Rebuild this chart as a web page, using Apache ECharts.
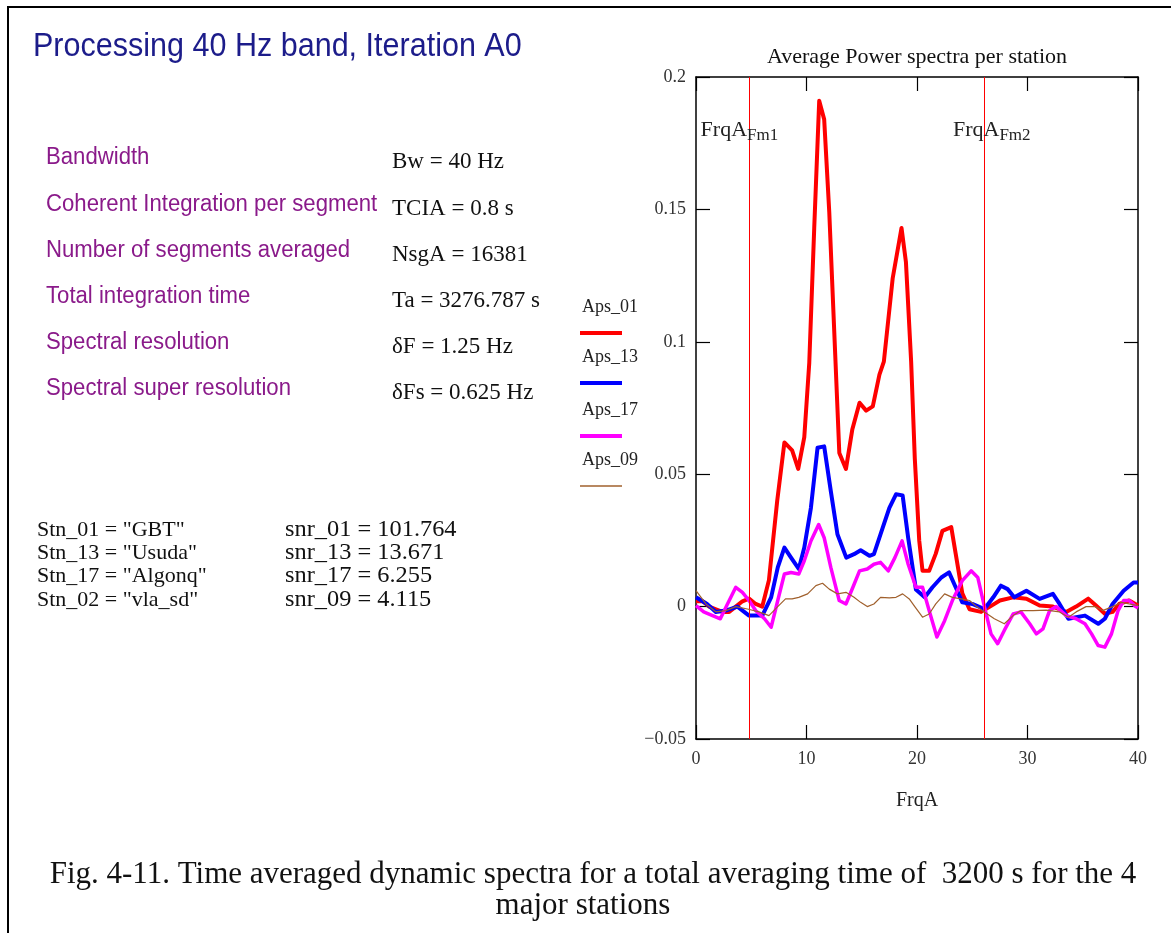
<!DOCTYPE html>
<html>
<head>
<meta charset="utf-8">
<script src="https://cdn.jsdelivr.net/npm/echarts@6/dist/echarts.min.js"></script>
<style>
html,body{margin:0;padding:0;background:#fff;}
#chart{width:1171px;height:933px;}
</style>
</head>
<body>
<div id="chart"></div>
<script>
// ---- data ----
const seriesNames = ['Aps_01', 'Aps_13', 'Aps_17', 'Aps_09'];
const aps01 = [[0,0.002],[0.6,0.002],[1.2,0.000],[1.8,-0.001],[2.4,-0.002],[3.0,-0.002],[3.6,0.000],[4.2,0.002],[4.8,0.003],[5.4,0.001],[6.0,0.000],[6.6,0.010],[7.35,0.040],[8.0,0.062],[8.7,0.059],[9.25,0.052],[9.8,0.064],[10.25,0.092],[10.7,0.143],[11.15,0.191],[11.6,0.184],[12.06,0.149],[12.6,0.095],[12.97,0.058],[13.57,0.052],[14.15,0.067],[14.8,0.077],[15.4,0.074],[16.0,0.0756],[16.6,0.0876],[17.0,0.0925],[17.8,0.124],[18.6,0.143],[19.0,0.130],[19.47,0.0925],[19.8,0.056],[20.2,0.025],[20.5,0.0135],[21.1,0.0135],[21.7,0.020],[22.3,0.0286],[23.1,0.030],[23.5,0.020],[24.1,0.005],[24.75,-0.001],[25.8,-0.002],[26.6,0.000],[27.5,0.0023],[28.7,0.0035],[29.9,0.003],[31.1,0.0004],[32.3,0.000],[33.5,-0.002],[34.4,0.000],[35.5,0.003],[36.2,0.0004],[37.0,-0.0027],[37.7,-0.002],[38.3,0.001],[39.2,0.0023],[40,0.0004]];
const aps13 = [[0,0.0035],[1.0,0.001],[1.8,-0.002],[2.7,-0.0015],[3.75,0.000],[4.8,-0.0034],[6.0,-0.0034],[6.8,0.0035],[7.4,0.0148],[8.0,0.0223],[8.6,0.0185],[9.3,0.0142],[9.8,0.0223],[10.4,0.0373],[11.0,0.060],[11.6,0.0605],[12.2,0.0436],[12.8,0.0273],[13.6,0.0185],[14.3,0.0198],[14.9,0.0213],[15.7,0.0192],[16.1,0.0198],[16.9,0.0298],[17.5,0.0373],[18.1,0.0424],[18.7,0.042],[19.2,0.026],[19.9,0.0065],[20.7,0.0035],[21.4,0.0073],[22.2,0.011],[22.9,0.0129],[23.5,0.0073],[24.1,0.0016],[25.0,0.001],[26.1,-0.0009],[26.9,0.0035],[27.6,0.0079],[28.2,0.0066],[28.8,0.0035],[29.9,0.006],[31.1,0.0029],[32.3,0.0048],[32.9,0.001],[33.7,-0.0046],[34.4,-0.004],[35.2,-0.0034],[36.4,-0.0065],[37.0,-0.0046],[37.7,0.001],[38.7,0.006],[39.6,0.0091],[40,0.0091]];
const aps17 = [[0,0.0004],[0.7,-0.002],[1.5,-0.0034],[2.2,-0.0046],[2.85,0.001],[3.6,0.0073],[4.2,0.0054],[4.8,0.0023],[5.4,-0.0015],[6.2,-0.0046],[6.8,-0.0078],[7.4,0.0023],[8.0,0.0123],[8.6,0.0129],[9.3,0.0123],[9.8,0.0173],[10.4,0.0248],[11.1,0.031],[11.6,0.026],[12.2,0.0148],[12.96,0.0023],[13.57,0.001],[14.2,0.0073],[14.8,0.0135],[15.5,0.0142],[16.1,0.016],[16.7,0.0167],[17.4,0.0135],[18.0,0.0185],[18.65,0.0248],[19.2,0.016],[19.9,0.0073],[20.5,0.0073],[21.1,-0.0015],[21.8,-0.0115],[22.5,-0.0053],[23.2,0.0023],[24.1,0.0098],[24.9,0.0135],[25.5,0.011],[26.1,0.000],[26.7,-0.0103],[27.3,-0.014],[27.9,-0.009],[28.7,-0.0028],[29.4,-0.002],[30.2,-0.0065],[30.8,-0.0103],[31.4,-0.0084],[32.0,-0.0015],[32.6,0.000],[33.5,-0.0034],[34.4,-0.0046],[35.2,-0.0065],[35.8,-0.0103],[36.4,-0.0147],[37.0,-0.0153],[37.6,-0.0103],[38.2,-0.0015],[38.7,0.0023],[39.2,0.0023],[39.8,0.000],[40,-0.0005]];
const aps09 = [[0,0.006],[0.9,0.001],[1.8,-0.002],[2.7,-0.0015],[3.6,0.000],[4.65,-0.0009],[5.7,-0.002],[6.6,-0.0034],[7.4,0.000],[8.1,0.0029],[8.7,0.0029],[9.3,0.0035],[10.1,0.0048],[10.85,0.0079],[11.45,0.0088],[12.06,0.0066],[12.8,0.0048],[13.57,0.0054],[14.3,0.0035],[14.9,0.0016],[15.5,0.000],[16.1,0.001],[16.7,0.0035],[17.5,0.0033],[18.1,0.0035],[18.7,0.0048],[19.3,0.0029],[19.8,0.000],[20.5,-0.004],[21.1,-0.0028],[21.7,0.001],[22.5,0.0048],[23.2,0.0035],[24.0,0.0029],[24.75,0.0023],[25.4,0.000],[26.1,-0.002],[27.0,-0.0046],[27.9,-0.0065],[28.7,-0.0034],[29.4,-0.0015],[30.5,-0.0015],[31.7,-0.0013],[32.9,-0.002],[33.7,-0.004],[34.4,-0.002],[35.3,0.000],[36.1,0.000],[36.8,-0.0015],[37.7,0.000],[38.5,0.0016],[39.2,0.001],[40,0.0004]];
const markerFreqs = [4.8, 26.1];
const markerSubs = ['Fm1', 'Fm2'];
const paramLabels = ['Bandwidth', 'Coherent Integration per segment', 'Number of segments averaged', 'Total integration time', 'Spectral resolution', 'Spectral super resolution'];
const paramValues = ['Bw = 40 Hz', 'TCIA = 0.8 s', 'NsgA = 16381', 'Ta = 3276.787 s', '\u03B4F = 1.25 Hz', '\u03B4Fs = 0.625 Hz'];
const stationNames = ['Stn_01 = "GBT"', 'Stn_13 = "Usuda"', 'Stn_17 = "Algonq"', 'Stn_02 = "vla_sd"'];
const snrValues = ['snr_01 = 101.764', 'snr_13 = 13.671', 'snr_17 = 6.255', 'snr_09 = 4.115'];
const yTicks = { min: -0.05, max: 0.2, interval: 0.05 };
const xTicks = { min: 0, max: 40, interval: 10 };

// ---- styles ----
const colors = ['#ff0000', '#0000ff', '#ff00ff', '#a0602d'];
const widths = [4, 4, 3.5, 1.2];
const SERIF = '"Liberation Serif","Times New Roman",serif';
const SANS = '"Liberation Sans",Arial,sans-serif';

const chart = echarts.init(document.getElementById('chart'), null, { renderer: 'canvas' });

function txt(x, y, text, size, family, fill, opts) {
  opts = opts || {};
  return {
    type: 'text', x: x, y: y, scaleX: opts.scaleX || 1, z: 100,
    style: {
      text: text, fontSize: size, fontFamily: family, fill: fill,
      textAlign: opts.align || 'left', align: opts.align || 'left',
      textVerticalAlign: 'middle', verticalAlign: 'middle'
    }
  };
}

const graphics = [];
// frame
graphics.push({ type: 'line', shape: { x1: 7, y1: 7, x2: 1171, y2: 7 }, style: { stroke: '#000', lineWidth: 2 } });
graphics.push({ type: 'line', shape: { x1: 8, y1: 7, x2: 8, y2: 933 }, style: { stroke: '#000', lineWidth: 2 } });
// title
graphics.push(txt(33, 47, 'Processing 40 Hz band, Iteration A0', 33, SANS, '#1c1c8a', { scaleX: 0.925 }));
// parameters
const paramY = [158, 205, 251, 297, 343, 389];
paramLabels.forEach((t, i) => graphics.push(txt(46, paramY[i], t, 23, SANS, '#8a1a8a', { scaleX: 0.963 })));
paramValues.forEach((t, i) => graphics.push(txt(392, paramY[i] + 4, t, 23, SERIF, '#111')));
// stations
const stnY = [530, 553, 576, 600];
stationNames.forEach((t, i) => graphics.push(txt(37, stnY[i], t, 22, SERIF, '#111')));
snrValues.forEach((t, i) => graphics.push(txt(285, stnY[i], t, 23, SERIF, '#111', { scaleX: 1.06 })));
// legend
const legY = [307, 357, 410, 460];
seriesNames.forEach((n, i) => {
  graphics.push(txt(582, legY[i], n, 18, SERIF, '#222'));
  graphics.push({ type: 'line', shape: { x1: 580, y1: legY[i] + 26, x2: 622, y2: legY[i] + 26 }, style: { stroke: colors[i], lineWidth: i === 3 ? 1.5 : 4 } });
});
// chart title
graphics.push(txt(917, 57, 'Average Power spectra per station', 22, SERIF, '#111', { align: 'center' }));
// caption
graphics.push(txt(593, 875, 'Fig. 4-11. Time averaged dynamic spectra for a total averaging time of  3200 s for the 4', 31, SERIF, '#111', { align: 'center' }));
graphics.push(txt(583, 906, 'major stations', 31, SERIF, '#111', { align: 'center' }));

function fmt(v) {
  const r = Math.round(v * 1000) / 1000;
  return r < 0 ? '\u2212' + String(-r) : String(r);
}

function axisCommon() {
  return {
    axisLine: { show: true, onZero: false, lineStyle: { color: '#000', width: 1.5 } },
    axisTick: { show: true, inside: true, length: 14, lineStyle: { color: '#000', width: 1.2 } },
    splitLine: { show: false }
  };
}

const option = {
  backgroundColor: '#fff',
  animation: false,
  grid: { left: 696, top: 77, width: 442, height: 662, containLabel: false },
  xAxis: [
    Object.assign({
      type: 'value', min: xTicks.min, max: xTicks.max, interval: xTicks.interval, position: 'bottom',
      axisLabel: { color: '#333', fontSize: 18, fontFamily: SERIF, margin: 11, formatter: fmt },
      name: 'FrqA', nameLocation: 'middle', nameGap: 52,
      nameTextStyle: { color: '#222', fontSize: 20, fontFamily: SERIF }
    }, axisCommon()),
    Object.assign({
      type: 'value', min: xTicks.min, max: xTicks.max, interval: xTicks.interval, position: 'top',
      axisLabel: { show: false }
    }, axisCommon())
  ],
  yAxis: [
    Object.assign({
      type: 'value', min: yTicks.min, max: yTicks.max, interval: yTicks.interval, position: 'left',
      axisLabel: { color: '#333', fontSize: 18, fontFamily: SERIF, margin: 10, formatter: fmt }
    }, axisCommon()),
    Object.assign({
      type: 'value', min: yTicks.min, max: yTicks.max, interval: yTicks.interval, position: 'right',
      axisLabel: { show: false }
    }, axisCommon())
  ],
  series: [aps01, aps13, aps17, aps09].map((d, i) => ({
    name: seriesNames[i], type: 'line', data: d, xAxisIndex: 0, yAxisIndex: 0,
    showSymbol: false, symbol: 'none', smooth: false,
    lineStyle: { color: colors[i], width: widths[i], join: 'round' },
    itemStyle: { color: colors[i] },
    z: 2 + i,
    markLine: i === 0 ? {
      silent: true, symbol: 'none', label: { show: false },
      lineStyle: { color: '#ff0000', width: 1, type: 'solid' },
      data: markerFreqs.map(f => ({ xAxis: f }))
    } : undefined
  })),
  graphic: graphics
};
chart.setOption(option);

// marker labels anchored to the marker lines through the axis scale
const markerGraphics = [];
const labelDx = [-2, 15];
markerFreqs.forEach((f, i) => {
  const px = chart.convertToPixel({ xAxisIndex: 0 }, f);
  const py = chart.convertToPixel({ yAxisIndex: 0 }, 0.18);
  markerGraphics.push(txt(px + labelDx[i], py, 'FrqA', 22, SERIF, '#222', { align: 'right' }));
  markerGraphics.push(txt(px + labelDx[i], py + 6, markerSubs[i], 17, SERIF, '#222'));
});
chart.setOption({ graphic: graphics.concat(markerGraphics) });
</script>
</body>
</html>
